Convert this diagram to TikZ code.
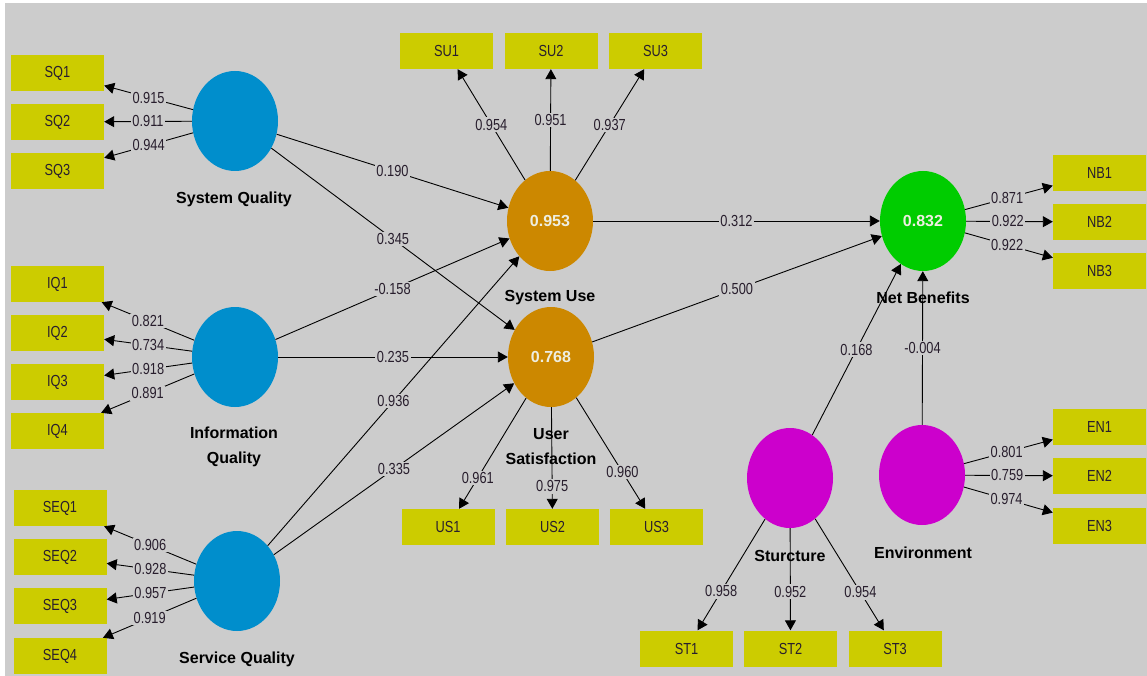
\documentclass[tikz,border=0pt]{standalone}
\usepackage{fontspec}
\setmainfont{Liberation Sans}
\newfontfamily\narrowfont[FakeStretch=0.8]{Liberation Sans}
\usetikzlibrary{shapes.geometric,arrows.meta}
\definecolor{bggray}{RGB}{204,204,204}
\definecolor{indyel}{RGB}{204,204,0}
\definecolor{latblue}{RGB}{0,142,204}
\definecolor{latorange}{RGB}{204,136,0}
\definecolor{latgreen}{RGB}{0,204,0}
\definecolor{latmag}{RGB}{204,0,204}
\definecolor{txtdark}{RGB}{40,30,45}
\definecolor{valtxt}{RGB}{238,238,225}
\tikzset{
  lat/.style={ellipse, minimum width=86pt, minimum height=100pt, inner sep=0pt},
  ind/.style={rectangle, fill=indyel, minimum width=93pt, minimum height=36pt, inner sep=0pt,
              text=txtdark, font=\narrowfont\fontsize{16}{19}\selectfont},
  lbl/.style={fill=bggray, inner sep=1.5pt, text=txtdark, font=\narrowfont\fontsize{16}{19}\selectfont},
  arr/.style={draw=black, line width=0.9pt, -{Triangle[length=10pt,width=11pt]}},
  latname/.style={align=center, text=black, font=\bfseries\fontsize{16}{25}\selectfont},
  valtext/.style={text=valtxt, font=\bfseries\fontsize{16}{19}\selectfont}
}
\begin{document}
\begin{tikzpicture}[x=1pt,y=-1pt]
\useasboundingbox (0,0) rectangle (1147,676);
\fill[white] (0,0) rectangle (1147,676);
\fill[bggray] (5,3) rectangle (1147,676);

% latent variables
\node[lat, fill=latblue] (SQ) at (235,121) {};
\node[lat, fill=latblue] (IQ) at (235,357) {};
\node[lat, fill=latblue] (SEQ) at (237,581) {};
\node[lat, fill=latorange] (SU) at (550,221) {};
\node[lat, fill=latorange] (US) at (551,357) {};
\node[lat, fill=latgreen] (NB) at (923,221) {};
\node[lat, fill=latmag] (ST) at (790,478) {};
\node[lat, fill=latmag] (EN) at (922,475) {};

% indicators
\node[ind] (SQ1) at (57.5,73) {SQ1};
\node[ind] (SQ2) at (57.5,122) {SQ2};
\node[ind] (SQ3) at (57.5,171) {SQ3};
\node[ind] (IQ1) at (57.5,284) {IQ1};
\node[ind] (IQ2) at (57.5,333) {IQ2};
\node[ind] (IQ3) at (57.5,382) {IQ3};
\node[ind] (IQ4) at (57.5,431) {IQ4};
\node[ind] (SEQ1) at (60,508) {SEQ1};
\node[ind] (SEQ2) at (60,557) {SEQ2};
\node[ind] (SEQ3) at (60,606) {SEQ3};
\node[ind] (SEQ4) at (60,656) {SEQ4};
\node[ind] (SU1) at (446.5,51) {SU1};
\node[ind] (SU2) at (551,51) {SU2};
\node[ind] (SU3) at (655.5,51) {SU3};
\node[ind] (US1) at (448,527) {US1};
\node[ind] (US2) at (552.5,527) {US2};
\node[ind] (US3) at (656.5,527) {US3};
\node[ind] (NB1) at (1099.5,173) {NB1};
\node[ind] (NB2) at (1099.5,222) {NB2};
\node[ind] (NB3) at (1099.5,271) {NB3};
\node[ind] (EN1) at (1099.5,427) {EN1};
\node[ind] (EN2) at (1099.5,476) {EN2};
\node[ind] (EN3) at (1099.5,526) {EN3};
\node[ind] (ST1) at (686.5,648.5) {ST1};
\node[ind] (ST2) at (790.5,648.5) {ST2};
\node[ind] (ST3) at (895,648.5) {ST3};

% outer loadings
\draw[arr] (SQ) -- node[lbl]{0.915} (SQ1);
\draw[arr] (SQ) -- node[lbl]{0.911} (SQ2);
\draw[arr] (SQ) -- node[lbl]{0.944} (SQ3);
\draw[arr] (IQ) -- node[lbl]{0.821} (IQ1);
\draw[arr] (IQ) -- node[lbl]{0.734} (IQ2);
\draw[arr] (IQ) -- node[lbl]{0.918} (IQ3);
\draw[arr] (IQ) -- node[lbl]{0.891} (IQ4);
\draw[arr] (SEQ) -- node[lbl]{0.906} (SEQ1);
\draw[arr] (SEQ) -- node[lbl]{0.928} (SEQ2);
\draw[arr] (SEQ) -- node[lbl]{0.957} (SEQ3);
\draw[arr] (SEQ) -- node[lbl]{0.919} (SEQ4);
\draw[arr] (SU) -- node[lbl,pos=0.5]{0.954} (SU1);
\draw[arr] (SU) -- node[lbl,pos=0.5]{0.951} (SU2);
\draw[arr] (SU) -- node[lbl,pos=0.5]{0.937} (SU3);
\draw[arr] (US) -- node[lbl,pos=0.72]{0.961} (US1);
\draw[arr] (US) -- node[lbl,pos=0.78]{0.975} (US2);
\draw[arr] (US) -- node[lbl,pos=0.67]{0.960} (US3);
\draw[arr] (NB) -- node[lbl,pos=0.48]{0.871} (NB1);
\draw[arr] (NB) -- node[lbl,pos=0.48]{0.922} (NB2);
\draw[arr] (NB) -- node[lbl,pos=0.48]{0.922} (NB3);
\draw[arr] (EN) -- node[lbl,pos=0.48]{0.801} (EN1);
\draw[arr] (EN) -- node[lbl,pos=0.48]{0.759} (EN2);
\draw[arr] (EN) -- node[lbl,pos=0.48]{0.974} (EN3);
\draw[arr] (ST) -- node[lbl,pos=0.65]{0.958} (ST1);
\draw[arr] (ST) -- node[lbl,pos=0.62]{0.952} (ST2);
\draw[arr] (ST) -- node[lbl,pos=0.66]{0.954} (ST3);

% structural paths
\draw[arr] (SQ) -- node[lbl]{0.190} (SU);
\draw[arr] (SQ) -- node[lbl]{0.345} (US);
\draw[arr] (IQ) -- node[lbl]{-0.158} (SU);
\draw[arr] (IQ) -- node[lbl]{0.235} (US);
\draw[arr] (SEQ) -- node[lbl]{0.936} (SU);
\draw[arr] (SEQ) -- node[lbl]{0.335} (US);
\draw[arr] (SU) -- node[lbl]{0.312} (NB);
\draw[arr] (US) -- node[lbl]{0.500} (NB);
\draw[arr] (ST) -- node[lbl]{0.168} (NB);
\draw[arr] (EN) -- node[lbl]{-0.004} (NB);

% values inside circles
\node[valtext] (SUv) at (SU) {0.953};
\node[valtext] (USv) at (US) {0.768};
\node[valtext] (NBv) at (NB) {0.832};

% latent names
\node[latname] (SQn) at (234,199) {System Quality};
\node[latname] (IQn) at (234,446.5) {Information\\Quality};
\node[latname] (SEQn) at (237,659) {Service Quality};
\node[latname] (SUn) at (550,298) {System Use};
\node[latname] (USn) at (551,447) {User\\Satisfaction};
\node[latname] (NBn) at (923,298) {Net Benefits};
\node[latname] (STn) at (790,556) {Sturcture};
\node[latname] (ENn) at (923,553) {Environment};
\end{tikzpicture}
\end{document}
